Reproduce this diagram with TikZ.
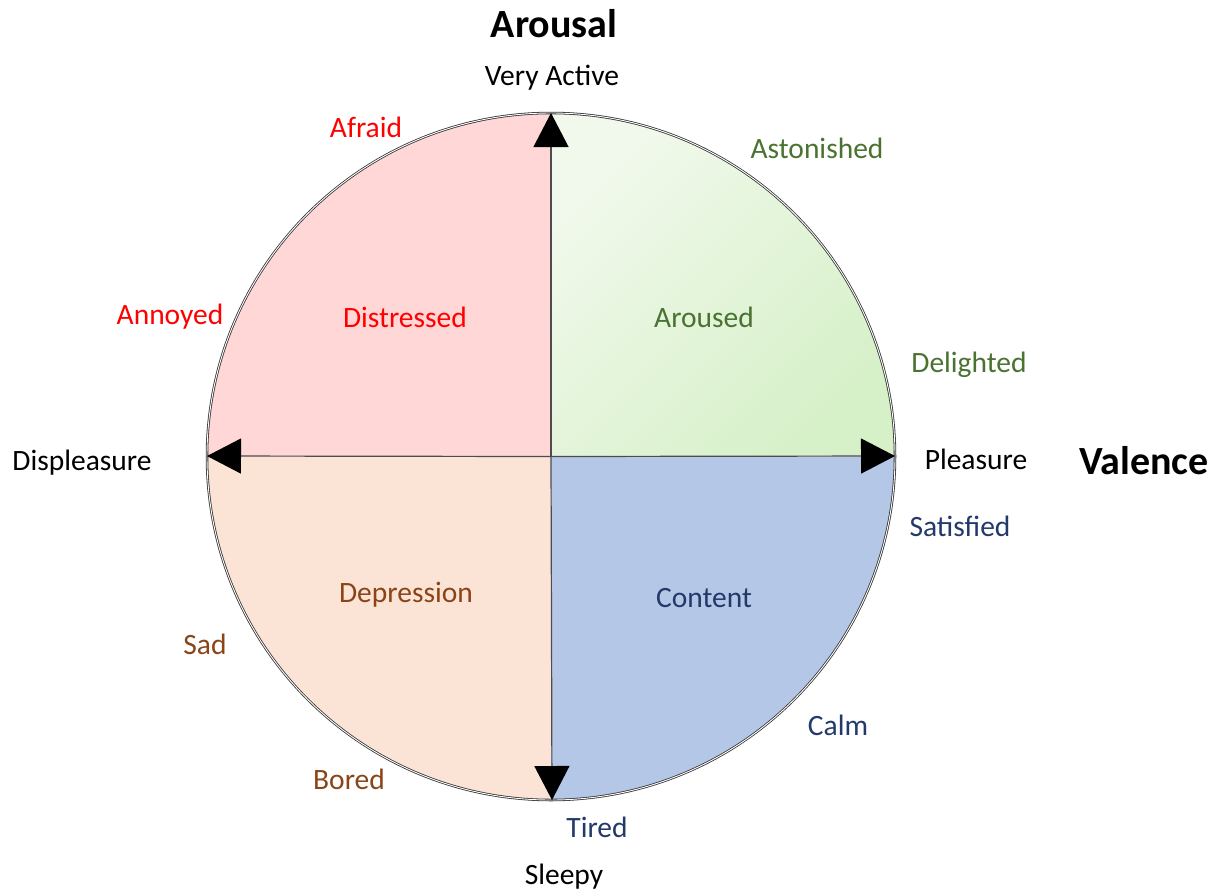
\documentclass[tikz,border=0pt]{standalone}
\usepackage{fontspec}
\setmainfont{Carlito}
\usetikzlibrary{arrows.meta}
\definecolor{qpink}{HTML}{FFD7D7}
\definecolor{qpeach}{HTML}{FBE4D6}
\definecolor{qblue}{HTML}{B4C7E7}
\definecolor{qgreenA}{HTML}{F1F9EC}
\definecolor{qgreenB}{HTML}{D6F0C8}
\definecolor{tred}{HTML}{FF0000}
\definecolor{tgreen}{HTML}{4A7230}
\definecolor{tbrown}{HTML}{8A4418}
\definecolor{tblue}{HTML}{22396A}
\tikzset{
  lbl/.style={font=\fontsize{29.5}{35}\selectfont, inner sep=0pt},
  ttl/.style={font=\fontsize{40}{46}\selectfont\bfseries, inner sep=0pt},
  axisline/.style={draw=black!70, line width=1.2pt, -{Triangle[length=34pt,width=35pt,color=black]}},
  rim/.style={draw=black!80, line width=0.8pt, double=white, double distance=0.9pt}
}
\begin{document}
\begin{tikzpicture}[x=1pt,y=-1pt]
\useasboundingbox (0,0) rectangle (1229,892);
\coordinate (c) at (551,456.5);
% quadrants
\fill[qpink] (c) -- (207,456.5) arc[start angle=180,end angle=90,x radius=344,y radius=-343.5] -- cycle;
\shade[top color=qgreenA, bottom color=qgreenB, shading angle=45] (c) -- (551,113) arc[start angle=90,end angle=0,x radius=344,y radius=-343.5] -- cycle;
\fill[qpeach] (c) -- (207,456.5) arc[start angle=180,end angle=270,x radius=344,y radius=-343.5] -- cycle;
\fill[qblue] (c) -- (895,456.5) arc[start angle=0,end angle=-90,x radius=344,y radius=-343.5] -- cycle;
\draw[rim] (c) ellipse[x radius=344,y radius=343.5];
% axes
\coordinate (top) at (551,113);
\coordinate (bot) at (552,800);
\coordinate (lft) at (207,456);
\coordinate (rgt) at (895,456);
\draw[axisline] (c) -- (top);
\draw[axisline] (c) -- (bot);
\draw[axisline] (c) -- (lft);
\draw[axisline] (c) -- (rgt);
% titles
\node[ttl] (arousal) at (554,24) {Arousal};
\node[ttl] (valence) at (1144,461) {Valence};
% axis labels
\node[lbl] (va) at (552,78) {Very Active};
\node[lbl] (sl) at (564,877) {Sleepy};
\node[lbl] (dp) at (82,463) {Displeasure};
\node[lbl] (pl) at (976,459) {Pleasure};
% red
\node[lbl, text=tred] (afraid) at (366,127) {Afraid};
\node[lbl, text=tred] (annoyed) at (170,317) {Annoyed};
\node[lbl, text=tred] (distressed) at (405,317) {Distressed};
% green
\node[lbl, text=tgreen] (aston) at (817,148) {Astonished};
\node[lbl, text=tgreen] (aroused) at (704,317) {Aroused};
\node[lbl, text=tgreen] (delight) at (969,365) {Delighted};
% brown
\node[lbl, text=tbrown] (depr) at (406,595) {Depression};
\node[lbl, text=tbrown] (sad) at (205,644) {Sad};
\node[lbl, text=tbrown] (bored) at (349,779) {Bored};
% blue
\node[lbl, text=tblue] (satis) at (960,526) {Satisfied};
\node[lbl, text=tblue] (content) at (704,598) {Content};
\node[lbl, text=tblue] (calm) at (838,725) {Calm};
\node[lbl, text=tblue] (tired) at (597,827) {Tired};
\end{tikzpicture}
\end{document}
